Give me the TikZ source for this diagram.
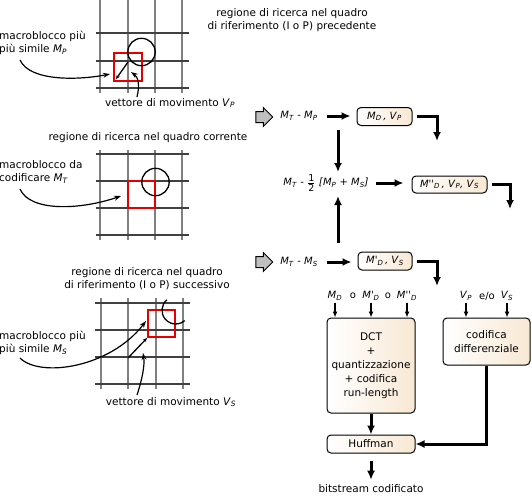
\documentclass[tikz,border=0pt]{standalone}
\usepackage{fontspec}
\setmainfont{DejaVu Sans}
\usetikzlibrary{arrows.meta,shapes.arrows,calc}
\definecolor{beige}{RGB}{248,232,212}
\newcommand\mi[2]{\textit{#1}\textsubscript{\textit{#2}}}
\newcommand\pq{\textquotesingle}
\begin{document}
\begin{tikzpicture}[x=1pt,y=-1pt,
  every node/.style={font=\fontsize{10.5}{13}\selectfont, inner sep=0pt},
  gridv/.style={draw=black!50, line width=1.2pt},
  gridh/.style={draw=black!75, line width=1.2pt},
  redsq/.style={draw=red!90!black, line width=1.3pt},
  ring/.style={draw=black, line width=1.3pt},
  note/.style={-{Stealth[length=7pt,width=5pt]}, line width=1.2pt},
  vec/.style={-{Stealth[length=4pt,width=3.5pt]}, line width=1.3pt},
  fat/.style={line width=3pt, -{Latex[length=9pt,width=8pt]}},
  thinarr/.style={line width=1.2pt, -{Latex[length=6pt,width=5pt]}},
  box/.style={draw, line width=1pt, rounded corners=4pt, left color=white, right color=beige, font=\fontsize{10}{13}\selectfont},
  blockarr/.style={shape=single arrow, draw, fill=black!25, line width=1pt, minimum width=19pt, minimum height=17pt, single arrow head extend=4pt, inner xsep=0pt, inner ysep=5pt},
  lab/.style={font=\fontsize{10}{13}\selectfont}
]
\useasboundingbox (0,0) rectangle (532,496);

% ---------- grid 1 ----------
\foreach \x in {100,128,155,182} \draw[gridv] (\x,0) -- (\x,93);
\foreach \y in {33,61,88} \draw[gridh] (96,\y) -- (189,\y);
\draw[redsq] (114,53) rectangle (142,81);
\draw[ring] (141.5,52) circle[radius=13.7];
\draw[vec] (128,62) -- (116,79);

% ---------- grid 2 ----------
\foreach \x in {100,128,155,182} \draw[gridv] (\x,150) -- (\x,240);
\foreach \y in {154,181,208,235} \draw[gridh] (96,\y) -- (189,\y);
\draw[redsq] (128,181) rectangle (155,208);
\draw[ring] (155.5,182) circle[radius=13.7];

% ---------- grid 3 ----------
\foreach \x in {101,128,156,183} \draw[gridv] (\x,298) -- (\x,389);
\foreach \y in {303,330,357,384} \draw[gridh] (95,\y) -- (190,\y);
\draw[redsq] (148,310) rectangle (175,337);
\draw[ring] (166.9,299.8) arc[start angle=-130, end angle=-311, radius=13.7];
\draw[vec] (128,358) -- (147,338);

% ---------- left texts ----------
\node[align=center] (t1) at (292,20) {regione di ricerca nel quadro\\di riferimento (I o P) precedente};
\node[align=left, anchor=west] (t2) at (-1,43) {macroblocco più\\più simile \mi{M}{P}};
\node (t3) at (170,103) {vettore di movimento \mi{V}{P}};
\node (t4) at (148,138) {regione di ricerca nel quadro corrente};
\node[align=left, anchor=west] (t5) at (-1,172) {macroblocco da\\codificare \mi{M}{T}};
\node[align=center] (t6) at (147,279) {regione di ricerca nel quadro\\di riferimento (I o P) successivo};
\node[align=left, anchor=west] (t7) at (-1,343) {macroblocco più\\più simile \mi{M}{S}};
\node (t8) at (171,402) {vettore di movimento \mi{V}{S}};

% annotation arrows
\coordinate (a1s) at (20,60);  \coordinate (a1e) at (110,74);
\coordinate (a2s) at (137,97); \coordinate (a2e) at (131,72);
\coordinate (a3s) at (20,189); \coordinate (a3e) at (121,196);
\coordinate (a4s) at (20,358); \coordinate (a4e) at (146,321);
\coordinate (a5s) at (137,395); \coordinate (a5e) at (143,353);
\draw[note] (a1s) .. controls (30,82) and (80,80) .. (a1e);
\draw[note] (a2s) .. controls (140,85) and (138,77) .. (a2e);
\draw[note] (a3s) .. controls (30,212) and (80,210) .. (a3e);
\draw[note] (a4s) .. controls (40,378) and (110,368) .. (a4e);
\draw[note] (a5s) .. controls (142,380) and (145,365) .. (a5e);

% ---------- right flow ----------
\node[blockarr] (ba1) at (261.5,117) {};
\node[blockarr] (ba2) at (261.5,262) {};

\node[lab] (mp) at (299,116) {\mi{M}{T} \textit{-} \mi{M}{P}};
\node[box, minimum width=55pt, minimum height=18pt] (md) at (384.5,116.5) {\mi{M}{D}\,\textit{,} \mi{V}{P}};
\node[lab] (mh) at (326,183) {\mi{M}{T} \textit{-} $\frac{\mbox{\fontsize{9.5}{10}\selectfont 1}}{\mbox{\fontsize{9.5}{10}\selectfont 2}}$ \textit{[}\mi{M}{P} \textit{+} \mi{M}{S}\textit{]}};
\node[box, minimum width=75pt, minimum height=17pt] (mdd) at (449.5,184.5) {\textit{M\pq\pq}\textsubscript{\textit{D}}\,\textit{,} \mi{V}{P}\textit{,} \mi{V}{S}};
\node[lab] (ms) at (299,262) {\mi{M}{T} \textit{-} \mi{M}{S}};
\node[box, minimum width=54pt, minimum height=18pt] (mds) at (385,261) {\textit{M\pq}\textsubscript{\textit{D}}\,\textit{,} \mi{V}{S}};

\coordinate (v1s) at (338,130); \coordinate (v1e) at (338,172);
\coordinate (v2s) at (338,243); \coordinate (v2e) at (338,196);
\coordinate (e1) at (437,141);
\coordinate (e2) at (510,209);
\coordinate (e3) at (437,286);

\draw[fat, shorten <=9pt, shorten >=6pt] (mp.east) -- (mp.east -| md.west);
\draw[fat, shorten <=7pt, shorten >=8pt] (mh.east) -- (mh.east -| mdd.west);
\draw[fat, shorten <=9pt, shorten >=6pt] (ms.east) -- (ms.east -| mds.west);
\draw[fat] (v1s) -- (v1e);
\draw[fat] (v2s) -- (v2e);
\draw[fat] ([xshift=4pt]md.east) -| (e1);
\draw[fat] ([xshift=4pt]mdd.east) -| (e2);
\draw[fat] ([xshift=4pt]mds.east) -| (e3);

% labels above the lower boxes
\node[lab] (l1) at (335,296) {\mi{M}{D}};
\node[lab] (o1) at (353,296) {o};
\node[lab] (l2) at (371,296) {\textit{M\pq}\textsubscript{\textit{D}}};
\node[lab] (o2) at (388,296) {o};
\node[lab] (l3) at (407,296) {\textit{M\pq\pq}\textsubscript{\textit{D}}};
\node[lab] (l4) at (466,296) {\mi{V}{P}};
\node[lab] (eo) at (487,296) {e/o};
\node[lab] (l5) at (507,296) {\mi{V}{S}};

\node[box, align=center, minimum width=88pt, minimum height=95pt, font=\fontsize{10.5}{14}\selectfont] (dct) at (371,365.5) {DCT\\+\\quantizzazione\\+ codifica\\run-length};
\node[box, align=center, minimum width=87pt, minimum height=47pt, font=\fontsize{10.5}{13.5}\selectfont] (cod) at (486.5,341.5) {codifica\\differenziale};
\node[box, minimum width=88pt, minimum height=18pt, font=\fontsize{10.5}{13}\selectfont] (huf) at (371,444) {Huffman};
\node (bit) at (371,489) {bitstream codificato};

\foreach \n in {l1,l2,l3} \draw[thinarr, shorten <=2pt] (\n.south) -- (\n.south |- dct.north);
\foreach \n in {l4,l5} \draw[thinarr, shorten <=2pt] (\n.south) -- (\n.south |- cod.north);

\draw[fat] (dct) -- (huf);
\draw[fat] (cod.south) |- (huf.east);
\draw[fat, shorten <=7pt, shorten >=5pt] (huf.south) -- (bit.north);
\end{tikzpicture}
\end{document}
